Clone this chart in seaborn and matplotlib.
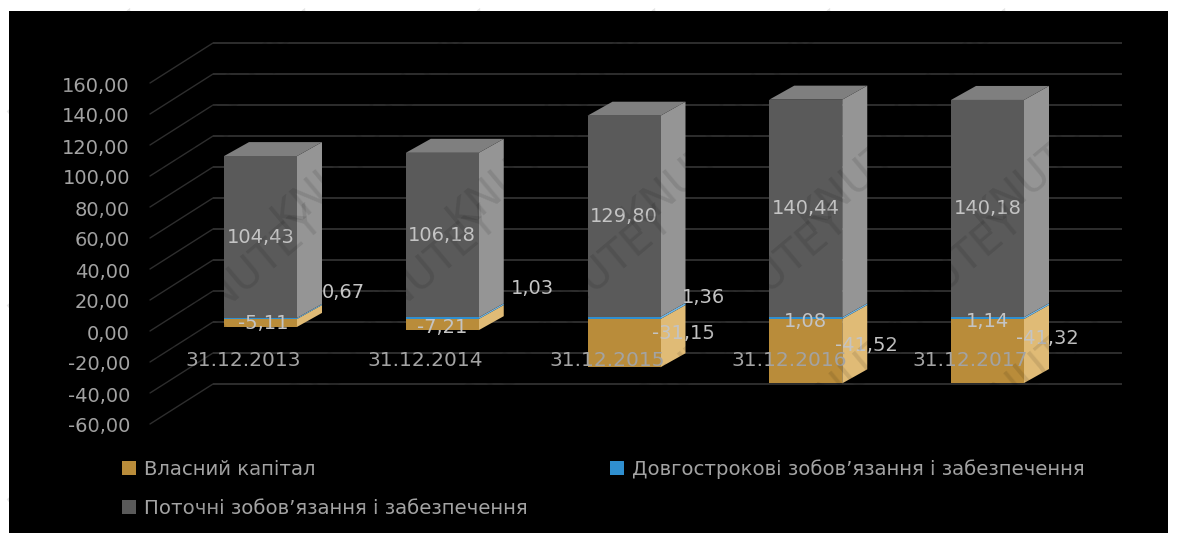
import numpy as np
import matplotlib
matplotlib.use("Agg")
import matplotlib.pyplot as plt
from matplotlib.transforms import Affine2D
from matplotlib.patches import Polygon
import seaborn as sns

dates = ["31.12.2013", "31.12.2014", "31.12.2015", "31.12.2016", "31.12.2017"]
equity = [-5.11, -7.21, -31.15, -41.52, -41.32]
long_term = [0.67, 1.03, 1.36, 1.08, 1.14]
current = [104.43, 106.18, 129.80, 140.44, 140.18]
y_ticks = [-60, -40, -20, 0, 20, 40, 60, 80, 100, 120, 140, 160]
equity_name = "Власний капітал"
long_name = "Довгострокові зобов’язання і забезпечення"
current_name = "Поточні зобов’язання і забезпечення"

W, H, DPI = 1177, 533, 100
LEFT, TOP, RIGHT = 9, 11, 1168      # black panel edges, px
ZERO_Y, PX_PER_UNIT = 319, 1.55     # bar plane scale
FIRST_X, PX_PER_CAT = 260.5, 181.75
BAR_WIDTH = 73 / PX_PER_CAT
SIDE_DX, SIDE_DY = 25, 14           # bar depth in px

FACE = {"equity": "#b98c3a", "long": "#2f8fd0", "current": "#5a5a5a"}
SIDE = {"equity": "#e0bb76", "long": "#6fb6e6", "current": "#959595"}
TOPC = "#7f7f7f"
TEXT = "#a3a3a3"
LABEL = "#c4c4c4"
GRID = "#2e2e2e"

sns.set_theme(style="dark", rc={"axes.facecolor": "black", "figure.facecolor": "white"})
plt.rcParams["font.family"] = ["DejaVu Sans"]

fig = plt.figure(figsize=(W / DPI, H / DPI), dpi=DPI)
ax = fig.add_axes([LEFT / W, 0, (RIGHT - LEFT) / W, (H - TOP) / H])
for s in ax.spines.values():
    s.set_visible(False)

# Stacked front faces
bottom_current = np.array(long_term)
bar_style = dict(saturation=1, width=BAR_WIDTH, linewidth=0, ax=ax, zorder=3)
sns.barplot(x=dates, y=equity, color=FACE["equity"], label=equity_name, **bar_style)
sns.barplot(x=dates, y=long_term, color=FACE["long"], label=long_name, **bar_style)
sns.barplot(x=dates, y=current, bottom=bottom_current, color=FACE["current"],
            label=current_name, **bar_style)

ax.set_xlim((LEFT - FIRST_X) / PX_PER_CAT, (RIGHT - FIRST_X) / PX_PER_CAT)
ax.set_ylim((ZERO_Y - H) / PX_PER_UNIT, (ZERO_Y - TOP) / PX_PER_UNIT)
fig.canvas.draw()

# Back wall lines and their diagonals running to the front plane
wall_x0 = (150 - FIRST_X) / PX_PER_CAT
wall_x1 = (213 - FIRST_X) / PX_PER_CAT
grid_end = (1122 - FIRST_X) / PX_PER_CAT
for v in y_ticks:
    y_front = v - 12 / PX_PER_UNIT
    y_back = v + 28 / PX_PER_UNIT
    ax.plot([wall_x1, grid_end], [y_back, y_back], color=GRID, lw=1.4, zorder=1,
            solid_capstyle="butt")
    ax.plot([wall_x0, wall_x1], [y_front, y_back], color=GRID, lw=1.0, zorder=1)

# Side and top faces of each bar
half = BAR_WIDTH / 2
dx = SIDE_DX / PX_PER_CAT
dy = SIDE_DY / PX_PER_UNIT
for i in range(len(dates)):
    segments = [
        ("equity", equity[i], 0),
        ("long", 0, long_term[i]),
        ("current", long_term[i], long_term[i] + current[i]),
    ]
    xr = i + half
    for key, lo, hi in segments:
        ax.add_patch(Polygon([(xr, lo), (xr + dx, lo + dy), (xr + dx, hi + dy), (xr, hi)],
                             closed=True, fc=SIDE[key], ec="none", zorder=2))
    top = long_term[i] + current[i]
    ax.add_patch(Polygon([(i - half, top), (i - half + dx, top + dy), (xr + dx, top + dy), (xr, top)],
                         closed=True, fc=TOPC, ec="none", zorder=2))

# Value labels; some are nudged clear of the bar by a pixel offset
label_size = 14
equity_offset = [(3, -1), (0, -3), (59, 10), (61, 6), (60, 13)]
long_offset = [(83, 26), (90, 30), (80, 20), (0, -3), (0, -3)]
for i in range(len(dates)):
    ax.annotate(f"{equity[i]:.2f}".replace(".", ","), (i, equity[i] / 2), xytext=equity_offset[i],
                textcoords="offset pixels", ha="center", va="center", color=LABEL,
                fontsize=label_size, zorder=5)
    ax.annotate(f"{long_term[i]:.2f}".replace(".", ","), (i, long_term[i] / 2), xytext=long_offset[i],
                textcoords="offset pixels", ha="center", va="center", color=LABEL,
                fontsize=label_size, zorder=5)
    ax.annotate(f"{current[i]:.2f}".replace(".", ","), (i, long_term[i] + current[i] / 2),
                ha="center", va="center", color=LABEL, fontsize=label_size, zorder=5)

# Axis tick labels sit on the front plane, in front of the bars
ax.set_axisbelow(False)
ax.xaxis.set_zorder(6)
ax.set_yticks(y_ticks, [f"{v:.2f}".replace(".", ",") for v in y_ticks])
ax.tick_params(axis="y", length=0, pad=0, labelsize=14, labelcolor=TEXT)
ax.tick_params(axis="x", length=0, pad=0, labelsize=14.5, labelcolor=TEXT)
for lab in ax.get_yticklabels():
    lab.set_transform(lab.get_transform() + Affine2D().translate(121, -13))
ax.set_xticks(range(len(dates)), dates)
for lab in ax.get_xticklabels():
    lab.set_transform(lab.get_transform() + Affine2D().translate(-17, 182))
ax.set_xlabel("")
ax.set_ylabel("")
ax.grid(False)

handles, labels = ax.get_legend_handles_labels()
if ax.get_legend() is not None:
    ax.get_legend().remove()
order = [labels.index(equity_name), labels.index(current_name), labels.index(long_name)]
fig.legend([handles[k] for k in order], [labels[k] for k in order], ncols=2, frameon=False,
           loc="lower left", bbox_to_anchor=(122 / W, 15 / H), bbox_transform=fig.transFigure,
           fontsize=14.2, labelcolor=TEXT, handlelength=0.7, handleheight=0.7, handletextpad=0.4,
           columnspacing=4.2, labelspacing=1.0, borderpad=0, borderaxespad=0)

# Repeating diagonal stamp, darkening whatever lies beneath it
for row in range(5):
    for col in range(7):
        cx = 78 + col * 175 + (row % 2) * 87
        cy = 72 + row * 97
        if cx < W - 78:
            fig.text(cx / W, 1 - cy / H, "KNUTEY", rotation=40, color="black", alpha=0.10,
                     fontsize=30, ha="center", va="center", zorder=10)

fig.savefig("out.png", dpi=DPI)
